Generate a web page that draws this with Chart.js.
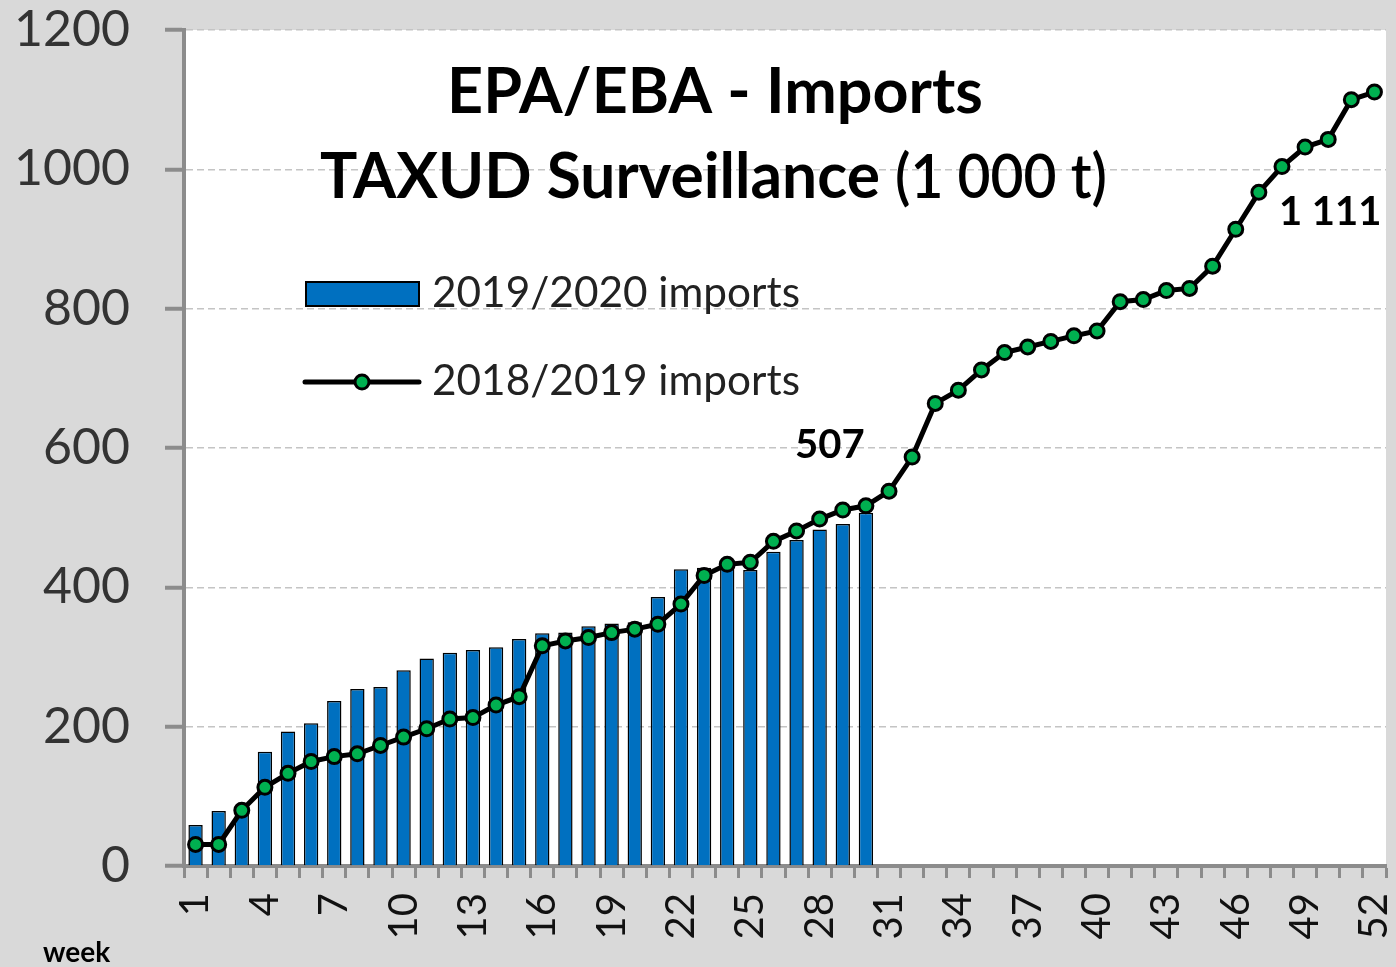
<!DOCTYPE html>
<html>
<head>
<meta charset="utf-8">
<title>EPA/EBA - Imports</title>
<script src="https://cdn.jsdelivr.net/npm/chart.js@4.4.1/dist/chart.umd.min.js"></script>
<style>
  html, body { margin: 0; padding: 0; background: #d9d9d9; }
  canvas { display: block; }
</style>
</head>
<body>
<canvas id="chart" width="1396" height="967"></canvas>
<script>
// weeks 1..52
const weeks = Array.from({ length: 52 }, (_, i) => String(i + 1));

// 2019/2020 imports (1 000 t), weeks 1-30
const imports2019_2020 = [
    59, 79, 85, 164, 193, 205, 237, 254, 257, 281,
    298, 306, 310, 314, 326, 334, 335, 344, 348, 350,
    386, 426, 428, 432, 425, 451, 468, 483, 491, 507
];

// 2018/2019 imports (1 000 t), weeks 1-52
const imports2018_2019 = [
    31, 31, 80, 113, 133, 150, 157, 161, 173, 185,
    197, 211, 213, 231, 243, 316, 323, 328, 335, 340,
    347, 376, 417, 433, 436, 466, 481, 498, 511, 517,
    538, 587, 664, 683, 712, 737, 745, 753, 761, 768,
    810, 813, 826, 829, 861, 914, 967, 1004, 1032, 1043,
    1100, 1111
];

const yTicks = [0, 200, 400, 600, 800, 1000, 1200];

const titleLine1 = 'EPA/EBA - Imports';
const titleLine2Bold = 'TAXUD Surveillance';
const titleLine2Plain = '(1 000 t)';

const FONT = 'Lato, "Open Sans", sans-serif';
const BLUE = '#0070c0';
const GREEN = '#00b050';
const AXIS_GREY = '#8c8c8c';

// grey page, white plot area
const background = {
    id: 'background',
    beforeDraw(chart) {
        const { ctx, chartArea } = chart;
        ctx.save();
        ctx.fillStyle = '#d9d9d9';
        ctx.fillRect(0, 0, chart.width, chart.height);
        ctx.fillStyle = '#ffffff';
        ctx.fillRect(chartArea.left, chartArea.top, chartArea.right - chartArea.left, chartArea.bottom - chartArea.top);
        ctx.restore();
    }
};

function fitFont(ctx, text, weight, targetWidth) {
    ctx.font = weight + ' 100px ' + FONT;
    return 100 * targetWidth / ctx.measureText(text).width;
}

// title, legend, value labels and the "week" caption
const overlay = {
    id: 'overlay',
    afterDraw(chart) {
        const { ctx } = chart;
        const x = chart.scales.x;
        const y = chart.scales.y;
        const bars = chart.data.datasets[1];
        const line = chart.data.datasets[0];
        ctx.save();
        ctx.fillStyle = '#000';
        ctx.textBaseline = 'alphabetic';

        // title
        const size = fitFont(ctx, titleLine1, 'bold', 536);
        ctx.font = 'bold ' + size + 'px ' + FONT;
        ctx.textAlign = 'center';
        ctx.fillText(titleLine1, 715, 113);
        ctx.textAlign = 'left';
        const size2 = fitFont(ctx, titleLine2Bold, 'bold', 560);
        ctx.font = 'bold ' + size2 + 'px ' + FONT;
        ctx.fillText(titleLine2Bold, 320, 198);
        // "(1 000 t)" is set in a narrower face in the original: squeeze it
        ctx.font = '600 ' + size2 + 'px ' + FONT;
        const wPlain = ctx.measureText(titleLine2Plain).width;
        ctx.save();
        ctx.translate(895, 198);
        ctx.scale(212 / wPlain, 1);
        ctx.fillText(titleLine2Plain, 0, 0);
        ctx.restore();

        // legend
        const legSize = fitFont(ctx, bars.label, 'normal', 368);
        ctx.fillStyle = bars.backgroundColor;
        ctx.fillRect(306, 282, 113, 24);
        ctx.strokeStyle = '#000';
        ctx.lineWidth = 2;
        ctx.strokeRect(306, 282, 113, 24);
        ctx.fillStyle = '#222';
        ctx.font = legSize + 'px ' + FONT;
        ctx.fillText(bars.label, 432, 307);

        ctx.beginPath();
        ctx.moveTo(305, 382);
        ctx.lineTo(419, 382);
        ctx.lineCap = 'round';
        ctx.lineWidth = line.borderWidth;
        ctx.strokeStyle = line.borderColor;
        ctx.stroke();
        ctx.beginPath();
        ctx.arc(362, 382, line.pointRadius, 0, Math.PI * 2);
        ctx.fillStyle = line.pointBackgroundColor;
        ctx.fill();
        ctx.lineWidth = line.pointBorderWidth;
        ctx.stroke();
        ctx.fillStyle = '#222';
        ctx.fillText(line.label, 432, 395);

        // value labels
        ctx.fillStyle = '#000';
        ctx.font = 'bold 40px ' + FONT;
        const lastBar = bars.data.length - 1;
        ctx.textAlign = 'center';
        ctx.fillText(String(bars.data[lastBar]), x.getPixelForValue(lastBar) - 36, y.getPixelForValue(bars.data[lastBar]) - 55);
        const lastPt = line.data.length - 1;
        ctx.textAlign = 'right';
        ctx.fillText('1 111', x.getPixelForValue(lastPt) + 7, y.getPixelForValue(line.data[lastPt]) + 133);

        // axis caption
        ctx.textAlign = 'left';
        ctx.font = 'bold 28px ' + FONT;
        ctx.fillText('week', 43, 962);
        ctx.restore();
    }
};

function noPadding(scale) {
    scale.paddingTop = 0;
    scale.paddingBottom = 0;
    scale.paddingLeft = 0;
    scale.paddingRight = 0;
}

const ctx = document.getElementById('chart').getContext('2d');
new Chart(ctx, {
    data: {
        labels: weeks,
        datasets: [
            {
                type: 'line',
                label: '2018/2019 imports',
                data: imports2018_2019,
                borderColor: '#000',
                borderWidth: 5,
                pointRadius: 7,
                pointBackgroundColor: GREEN,
                pointBorderColor: '#000',
                pointBorderWidth: 3,
                tension: 0
            },
            {
                type: 'bar',
                label: '2019/2020 imports',
                data: imports2019_2020,
                backgroundColor: BLUE,
                borderColor: '#000',
                borderWidth: 1.5,
                barPercentage: 0.62,
                categoryPercentage: 1
            }
        ]
    },
    options: {
        responsive: false,
        animation: false,
        layout: { padding: { top: 30, right: 6, left: 0, bottom: 0 } },
        plugins: {
            legend: { display: false },
            title: { display: false },
            tooltip: { enabled: false }
        },
        scales: {
            x: {
                offset: true,
                grid: {
                    offset: true,
                    drawOnChartArea: false,
                    drawTicks: true,
                    tickLength: 12,
                    tickColor: AXIS_GREY,
                    tickWidth: 3
                },
                border: { display: true, color: AXIS_GREY, width: 4 },
                ticks: {
                    autoSkip: false,
                    minRotation: 90,
                    maxRotation: 90,
                    padding: 15,
                    color: '#111',
                    font: { family: FONT, size: 40 },
                    callback: (value, index) => (index % 3 === 0 ? weeks[index] : '')
                },
                afterFit: (scale) => { scale.height = 101; noPadding(scale); }
            },
            y: {
                min: 0,
                max: 1200,
                afterBuildTicks: (scale) => { scale.ticks = yTicks.map(v => ({ value: v })); },
                grid: {
                    color: '#c4c4c4',
                    lineWidth: 1.5,
                    tickLength: 19,
                    tickColor: AXIS_GREY,
                    tickWidth: 4,
                    tickBorderDash: []
                },
                border: { display: true, color: AXIS_GREY, width: 4, dash: [7, 4] },
                ticks: {
                    padding: 35,
                    color: '#333',
                    font: { family: FONT, size: 50 },
                    callback: (value) => String(value)
                },
                afterFit: (scale) => { scale.width = 184; noPadding(scale); }
            }
        }
    },
    plugins: [background, overlay]
});
</script>
</body>
</html>
